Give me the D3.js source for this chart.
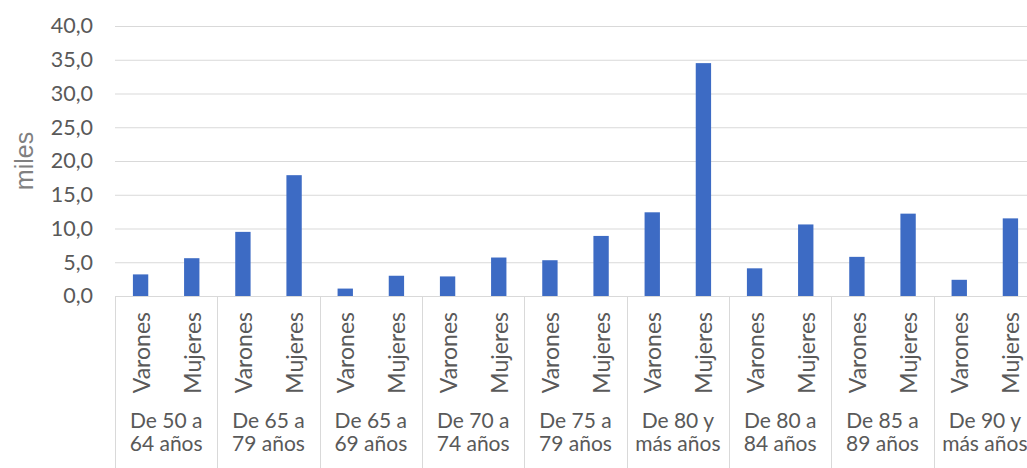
<!DOCTYPE html>
<html>
<head>
<meta charset="utf-8">
<script src="https://cdn.jsdelivr.net/npm/d3@7"></script>
<style>
  body { margin: 0; background: #fff; }
  svg { display: block; }
</style>
</head>
<body>
<svg width="1027" height="468"></svg>
<script>
// age groups (two lines each), series and values in miles
var groups = [
    ["De 50 a", "64 años"],
    ["De 65 a", "79 años"],
    ["De 65 a", "69 años"],
    ["De 70 a", "74 años"],
    ["De 75 a", "79 años"],
    ["De 80 y", "más años"],
    ["De 80 a", "84 años"],
    ["De 85 a", "89 años"],
    ["De 90 y", "más años"]
];
var series = ["Varones", "Mujeres"];
var varones = [3.2, 9.5, 1.1, 2.9, 5.3, 12.4, 4.1, 5.8, 2.4];
var mujeres = [5.6, 17.9, 3.0, 5.7, 8.9, 34.5, 10.6, 12.2, 11.5];
var yTicks = [0, 5, 10, 15, 20, 25, 30, 35, 40];

var svg = d3.select("svg"),
    plotLeft = 115,
    plotRight = 1036,   // last group runs past the window edge, like the original
    plotTop = 26,
    plotBottom = 296;

var textColor = "#595959",
    gridColor = "#d9d9d9",
    barColor = "#3d6bc4";

var locale = d3.formatLocale({decimal: ",", thousands: ".", grouping: [3], currency: ["", "€"]});
var fmt = locale.format(".1f");

var y = d3.scaleLinear().domain([0, 40]).range([plotBottom, plotTop]);

var x0 = d3.scaleBand()
    .domain(d3.range(groups.length))
    .range([plotLeft, plotRight])
    .padding(0);

var x1 = d3.scaleBand()
    .domain(series)
    .range([0, x0.bandwidth()])
    .paddingInner(0.7)
    .paddingOuter(0.35);

// gridlines + tick labels
var yAxis = svg.append("g")
    .attr("transform", "translate(" + plotLeft + ",0)")
    .call(d3.axisLeft(y).tickValues(yTicks).tickFormat(fmt).tickSize(-(plotRight - plotLeft)).tickPadding(22));

yAxis.select(".domain").remove();
yAxis.selectAll(".tick line").attr("stroke", gridColor).attr("stroke-width", 1);
yAxis.selectAll(".tick text")
    .attr("fill", textColor)
    .style("font-family", "Lato, sans-serif")
    .style("font-size", "21.5px");

// y title
svg.append("text")
    .attr("transform", "translate(24,161) rotate(-90)")
    .attr("text-anchor", "middle")
    .attr("dominant-baseline", "central")
    .style("font-family", "'Liberation Sans', Arial, sans-serif")
    .style("font-size", "25px")
    .attr("fill", "#808080")
    .text("miles");

// group separators under the axis
var seps = d3.range(groups.length + 1).map(function(i) {
    return i < groups.length ? x0(i) : plotRight;
});
svg.selectAll(".sep")
    .data(seps)
    .enter().append("line")
    .attr("class", "sep")
    .attr("x1", function(d) { return Math.round(d) + 0.5; })
    .attr("x2", function(d) { return Math.round(d) + 0.5; })
    .attr("y1", plotBottom)
    .attr("y2", 468)
    .attr("stroke", gridColor);

// bars
var barData = [];
groups.forEach(function(g, i) {
    barData.push({group: i, key: "Varones", value: varones[i]});
    barData.push({group: i, key: "Mujeres", value: mujeres[i]});
});

svg.selectAll(".bar")
    .data(barData)
    .enter().append("rect")
    .attr("class", "bar")
    .attr("x", function(d) { return x0(d.group) + x1(d.key); })
    .attr("width", x1.bandwidth())
    .attr("y", function(d) { return y(d.value); })
    .attr("height", function(d) { return y(0) - y(d.value); })
    .attr("fill", barColor);

// rotated series labels
svg.selectAll(".serie")
    .data(barData)
    .enter().append("text")
    .attr("class", "serie")
    .attr("transform", function(d) {
        var cx = x0(d.group) + x1(d.key) + x1.bandwidth() / 2;
        return "translate(" + cx + "," + (plotBottom + 16) + ") rotate(-90)";
    })
    .attr("text-anchor", "end")
    .attr("dominant-baseline", "central")
    .attr("fill", textColor)
    .style("font-family", "Lato, sans-serif")
    .style("font-size", "23px")
    .text(function(d) { return d.key; });

// group labels, one text per line
[0, 1].forEach(function(line) {
    svg.selectAll(".grp" + line)
        .data(groups)
        .enter().append("text")
        .attr("class", "grp" + line)
        .attr("x", function(d, i) { return x0(i) + x0.bandwidth() / 2; })
        .attr("y", line === 0 ? 428 : 451)
        .attr("text-anchor", "middle")
        .attr("fill", textColor)
        .style("font-family", "Lato, sans-serif")
        .style("font-size", "21px")
        .text(function(d) { return d[line]; });
});
</script>
</body>
</html>
